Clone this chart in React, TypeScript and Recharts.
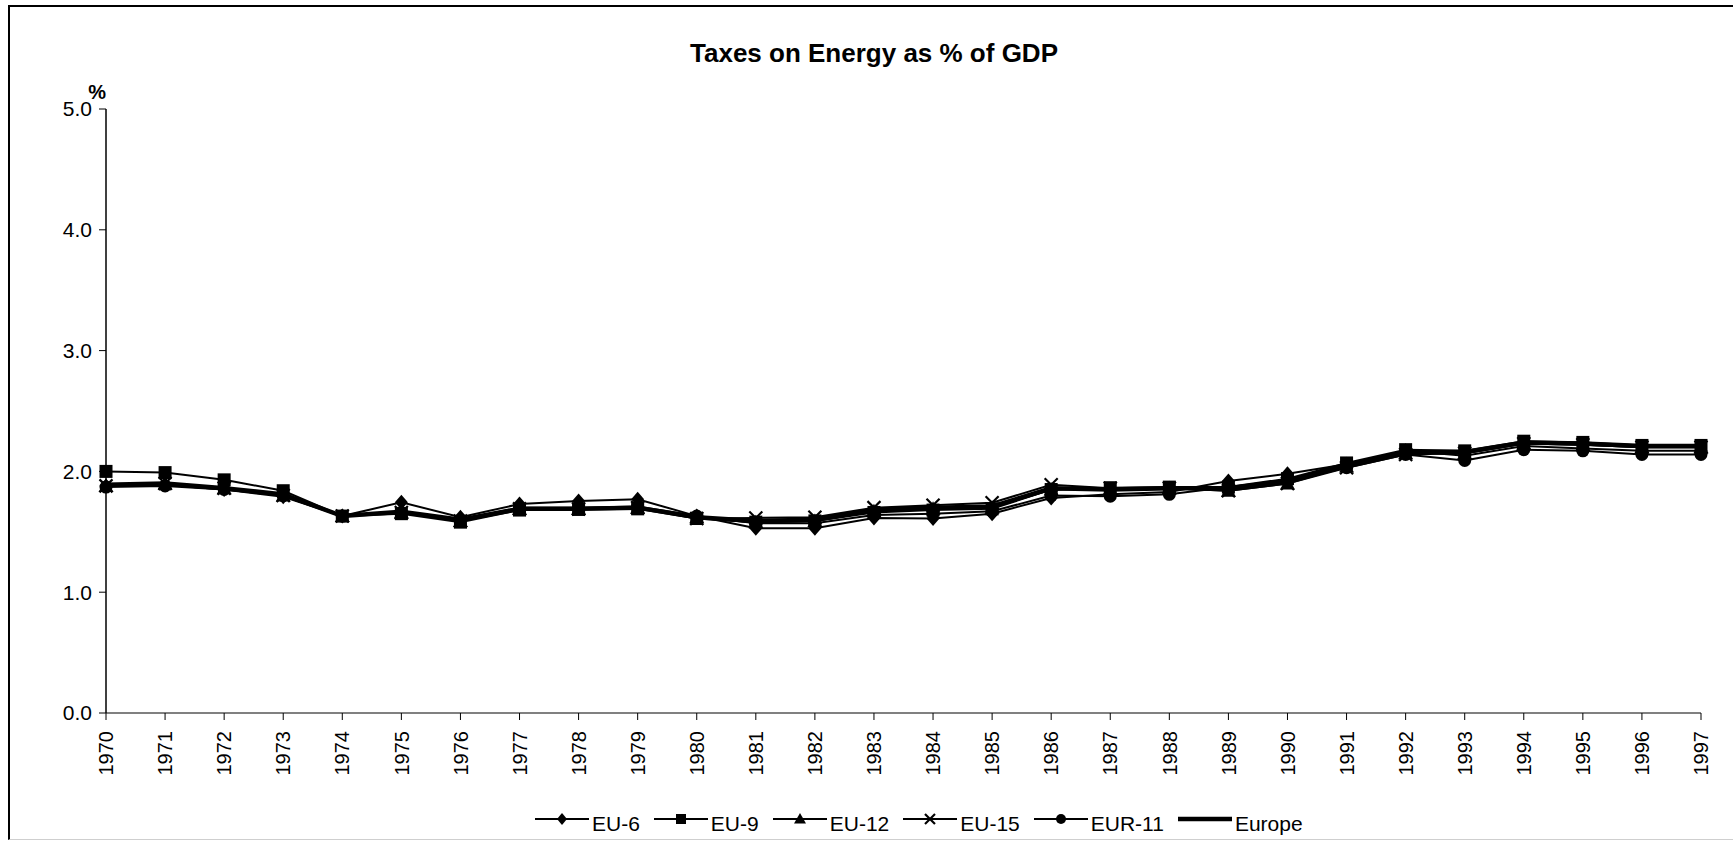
import React from 'react';
import { LineChart, Line, XAxis, YAxis, Legend } from 'recharts';

const years = ['1970','1971','1972','1973','1974','1975','1976','1977','1978','1979','1980','1981','1982','1983','1984','1985','1986','1987','1988','1989','1990','1991','1992','1993','1994','1995','1996','1997'];
const eu6 = [1.88,1.89,1.85,1.79,1.63,1.745,1.62,1.73,1.755,1.77,1.63,1.53,1.53,1.615,1.61,1.65,1.78,1.81,1.83,1.92,1.98,2.06,2.17,2.13,2.21,2.19,2.17,2.17];
const eu9 = [2.00,1.99,1.93,1.84,1.63,1.65,1.58,1.68,1.685,1.69,1.61,1.58,1.59,1.66,1.68,1.69,1.85,1.865,1.87,1.87,1.94,2.07,2.18,2.17,2.25,2.24,2.215,2.215];
const eu12 = [1.88,1.90,1.86,1.80,1.63,1.66,1.59,1.69,1.69,1.70,1.62,1.58,1.59,1.67,1.69,1.70,1.85,1.85,1.86,1.84,1.90,2.04,2.15,2.15,2.23,2.22,2.20,2.20];
const eu15 = [1.88,1.90,1.86,1.80,1.63,1.66,1.59,1.69,1.69,1.70,1.61,1.615,1.62,1.70,1.72,1.74,1.89,1.86,1.86,1.84,1.90,2.03,2.14,2.15,2.23,2.22,2.20,2.20];
const eur11 = [1.87,1.88,1.85,1.80,1.63,1.66,1.60,1.70,1.70,1.71,1.63,1.57,1.57,1.64,1.65,1.67,1.80,1.795,1.81,1.87,1.92,2.03,2.14,2.09,2.18,2.17,2.14,2.14];
const europe = [1.89,1.90,1.86,1.81,1.63,1.665,1.60,1.69,1.69,1.70,1.62,1.59,1.60,1.68,1.70,1.71,1.86,1.85,1.86,1.86,1.92,2.05,2.16,2.16,2.24,2.23,2.21,2.21];
const seriesNames = ['EU-6','EU-9','EU-12','EU-15','EUR-11','Europe'];
const yTicks = [0, 1, 2, 3, 4, 5];

const data = years.map((y, i) => ({
  year: y,
  eu6: eu6[i],
  eu9: eu9[i],
  eu12: eu12[i],
  eu15: eu15[i],
  eur11: eur11[i],
  europe: europe[i],
}));

type Shape = 'diamond' | 'square' | 'triangle' | 'x' | 'circle' | 'none';

const seriesConfig: { key: string; name: string; shape: Shape; width: number }[] = [
  { key: 'eu6', name: seriesNames[0], shape: 'diamond', width: 2 },
  { key: 'eu9', name: seriesNames[1], shape: 'square', width: 2 },
  { key: 'eu12', name: seriesNames[2], shape: 'triangle', width: 2 },
  { key: 'eu15', name: seriesNames[3], shape: 'x', width: 2 },
  { key: 'eur11', name: seriesNames[4], shape: 'circle', width: 2 },
  { key: 'europe', name: seriesNames[5], shape: 'none', width: 4.5 },
];

function Marker({ shape, cx, cy, s }: { shape: Shape; cx: number; cy: number; s: number }) {
  const h = s / 2;
  switch (shape) {
    case 'diamond':
      return <path d={`M${cx},${cy - h - 1} L${cx + h},${cy} L${cx},${cy + h + 1} L${cx - h},${cy} Z`} fill="#000" />;
    case 'square':
      return <rect x={cx - h} y={cy - h} width={s} height={s} fill="#000" />;
    case 'triangle':
      return <path d={`M${cx},${cy - h - 1} L${cx + h + 1},${cy + h - 0.5} L${cx - h - 1},${cy + h - 0.5} Z`} fill="#000" />;
    case 'x':
      return (
        <g stroke="#000" strokeWidth={2.2}>
          <line x1={cx - h} y1={cy - h} x2={cx + h} y2={cy + h} />
          <line x1={cx + h} y1={cy - h} x2={cx - h} y2={cy + h} />
        </g>
      );
    case 'circle':
      return <circle cx={cx} cy={cy} r={h} fill="#000" />;
    default:
      return null;
  }
}

const makeDot = (shape: Shape) => (props: any) => {
  const { cx, cy, index } = props;
  if (shape === 'none' || cx == null || cy == null) return <g key={`n-${index}`} />;
  return (
    <g key={`${shape}-${index}`}>
      <Marker shape={shape} cx={cx} cy={cy} s={13} />
    </g>
  );
};

const XTick = (props: any) => {
  const { x, y, payload } = props;
  return (
    <text
      x={x}
      y={y}
      transform={`rotate(-90, ${x}, ${y})`}
      textAnchor="end"
      dy="0.36em"
      fontSize={20}
      fill="#000"
    >
      {payload.value}
    </text>
  );
};

const LegendContent = () => (
  <div style={{ display: 'flex', flexDirection: 'row', gap: 14, alignItems: 'flex-start' }}>
    {seriesConfig.map((s) => (
      <div key={s.key} style={{ display: 'flex', alignItems: 'flex-start' }}>
        <svg width={54} height={24} style={{ display: 'block' }}>
          <line x1={0} y1={7} x2={54} y2={7} stroke="#000" strokeWidth={s.shape === 'none' ? 4.5 : 2} />
          <Marker shape={s.shape} cx={27} cy={7} s={10} />
        </svg>
        <span style={{ fontSize: 21, lineHeight: '24px', marginLeft: 3, color: '#000', whiteSpace: 'nowrap' }}>{s.name}</span>
      </div>
    ))}
  </div>
);

export default function App() {
  const font = "'Liberation Sans', Arial, Helvetica, sans-serif";
  return (
    <div style={{ position: 'absolute', left: 0, top: 0, width: 1733, height: 841, fontFamily: font, background: '#fff', overflow: 'hidden' }}>
      <style>{`body{margin:0;overflow:hidden;background:#fff}`}</style>
      <div
        style={{
          position: 'absolute',
          left: 8,
          top: 5,
          width: 1723,
          height: 832,
          borderTop: '2px solid #000',
          borderLeft: '2px solid #000',
          borderBottom: '1px solid #cfcfcf',
        }}
      />
      <div
        style={{
          position: 'absolute',
          left: 374,
          top: 38,
          width: 1000,
          textAlign: 'center',
          fontSize: 26,
          lineHeight: '30px',
          fontWeight: 'bold',
          color: '#000',
        }}
      >
        Taxes on Energy as % of GDP
      </div>
      <div
        style={{
          position: 'absolute',
          left: 56,
          top: 82,
          width: 50,
          textAlign: 'right',
          fontSize: 20,
          lineHeight: '20px',
          fontWeight: 'bold',
          color: '#000',
        }}
      >
        %
      </div>
      <div style={{ position: 'absolute', left: 0, top: 0 }}>
        <LineChart
          width={1733}
          height={841}
          data={data}
          margin={{ top: 109, right: 32, bottom: 58, left: 46 }}
        >
          <XAxis
            dataKey="year"
            interval={0}
            tickSize={7}
            tickMargin={11}
            height={70}
            tick={<XTick />}
            axisLine={{ stroke: '#808080', strokeWidth: 2 }}
            tickLine={{ stroke: '#000', strokeWidth: 1 }}
          />
          <YAxis
            domain={[0, 5]}
            ticks={yTicks}
            interval={0}
            width={60}
            tickSize={7}
            tickMargin={7}
            tickFormatter={(v: number) => v.toFixed(1)}
            tick={{ fontSize: 21, fill: '#000' }}
            axisLine={{ stroke: '#000', strokeWidth: 1.5 }}
            tickLine={{ stroke: '#000', strokeWidth: 1 }}
          />
          {seriesConfig.map((s) => (
            <Line
              key={s.key}
              type="linear"
              dataKey={s.key}
              name={s.name}
              stroke="#000"
              strokeWidth={s.width}
              dot={makeDot(s.shape)}
              activeDot={false}
              isAnimationActive={false}
            />
          ))}
          <Legend
            verticalAlign="middle"
            align="center"
            layout="horizontal"
            width={900}
            wrapperStyle={{ left: 535, top: 812, width: 900 }}
            content={<LegendContent />}
          />
        </LineChart>
      </div>
    </div>
  );
}
